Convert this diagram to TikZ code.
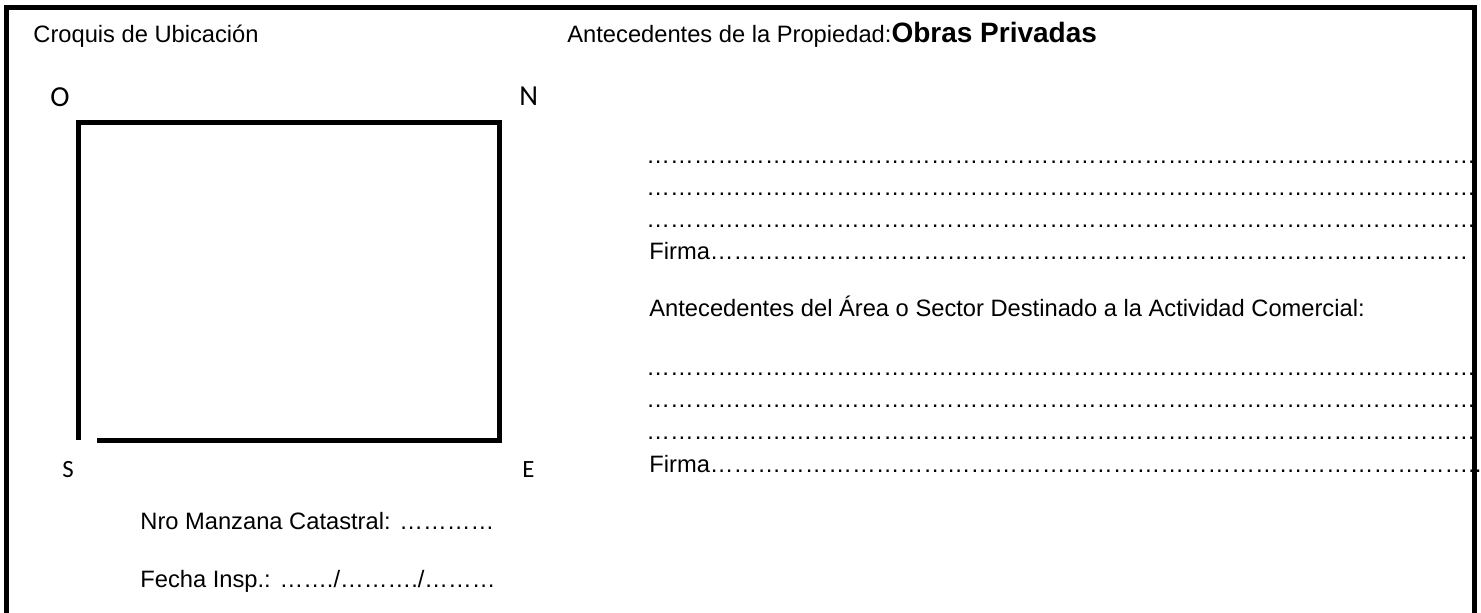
\documentclass[tikz,border=0pt]{standalone}
\usepackage{fontspec}
\setmainfont{Liberation Sans}
\newfontfamily\calibri{Carlito}
\newcommand\puntos[1]{\foreach \i in {1,...,#1}{…}}

\begin{document}
\begin{tikzpicture}[x=0.5pt,y=-0.5pt,
  texto/.style={anchor=base west,inner sep=0pt,font=\fontsize{11.85}{14}\selectfont},
  punto/.style={anchor=base west,inner sep=0pt,font=\calibri\fontsize{14.5}{16}\selectfont},
  puntochico/.style={anchor=base west,inner sep=0pt,font=\calibri\fontsize{12.4}{14}\selectfont},
  grueso/.style={line width=2.5pt}]
\useasboundingbox (0,0) rectangle (1481,613);
% marco
\draw [grueso] (6.5,613) -- (6.5,7.5) -- (1474.5,7.5) -- (1474.5,613);

% croquis
\node [texto] (croquis) at (33,43) {Croquis de Ubicación};
\node [punto] (oeste) at (50,107) {O};
\node [punto] (norte) at (519,106) {N};
\node [puntochico] (sur) at (62,478) {S};
\node [puntochico] (este) at (522,478) {E};
\draw [grueso] (78.5,440.5) -- (78.5,122.5) -- (499,122.5) -- (499,440.5) -- (97,440.5);
\node [texto] (manzana) at (140,530) {Nro Manzana Catastral: \puntos{4}};
\node [texto] (fecha) at (140,588) {Fecha Insp.: ……./………./………};

% antecedentes
\node [texto] (propiedad) at (567,43) {Antecedentes de la Propiedad:{\fontsize{14}{16}\selectfont\bfseries Obras Privadas}};
\node [texto] (linea1) at (646,164) {\puntos{35}};
\node [texto] (linea2) at (646,196) {\puntos{35}};
\node [texto] (linea3) at (646,228) {\puntos{35}};
\node [texto] (firma1) at (649,260) {Firma\puntos{32}};
\node [texto] (area) at (649,317) {Antecedentes del Área o Sector Destinado a la Actividad Comercial:};
\node [texto] (linea4) at (646,376) {\puntos{35}};
\node [texto] (linea5) at (646,408) {\puntos{35}};
\node [texto] (linea6) at (646,440) {\puntos{35}};
\node [texto] (firma2) at (649,473) {Firma\puntos{32}..};
\end{tikzpicture}
\end{document}
